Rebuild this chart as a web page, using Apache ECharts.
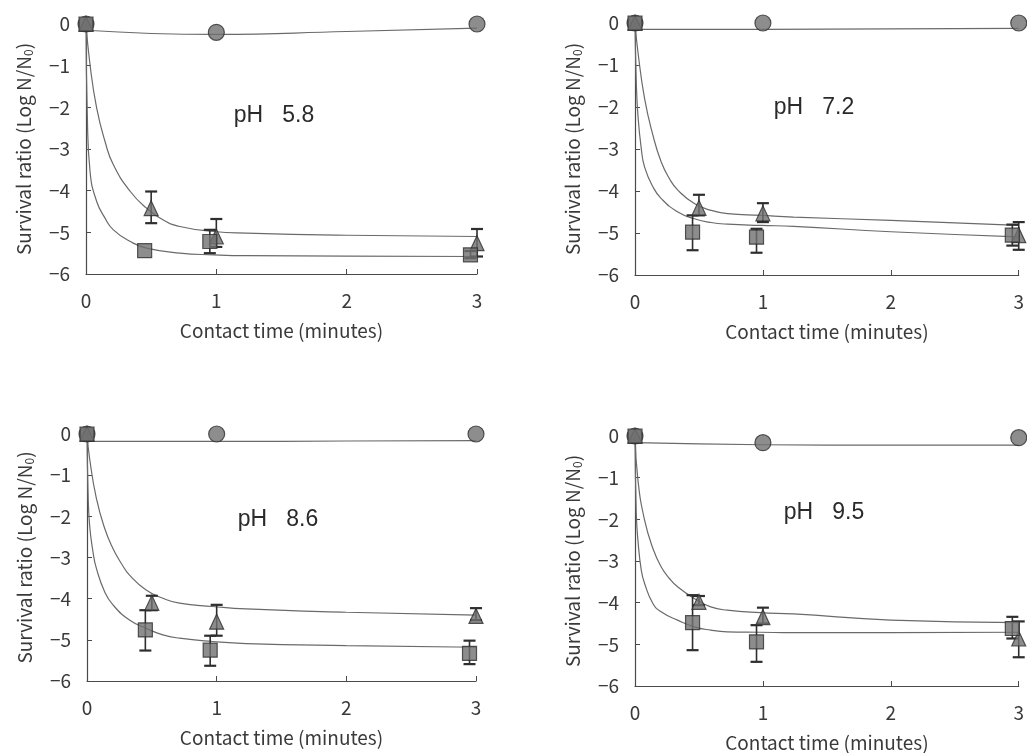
<!DOCTYPE html>
<html><head><meta charset="utf-8">
<script src="https://cdn.jsdelivr.net/npm/echarts@6/dist/echarts.min.js"></script>
<style>html,body{margin:0;padding:0;background:#fff}#c{width:1027px;height:753px}</style>
</head><body><div id="c"></div>
<script>
// ---------- data ----------
const panelLabels = ['pH   5.8', 'pH   7.2', 'pH   8.6', 'pH   9.5'];
const xTitle = 'Contact time (minutes)';
const yTitle = 'Survival ratio (Log N/N{sub|0})';
const xTicks = [0, 1, 2, 3];
const yTicks = [0, -1, -2, -3, -4, -5, -6];

// circles (control)
const circleT = [0, 1, 3];
const circle58 = [0, -0.2, 0];
const circle72 = [0, 0, 0];
const circle86 = [0, 0, 0];
const circle95 = [0, -0.16, -0.04];
const circleFitT = [0, 1, 2, 3];
const circleFit58 = [-0.15, -0.25, -0.18, -0.1];
const circleFit72 = [-0.15, -0.15, -0.14, -0.13];
const circleFit86 = [-0.18, -0.18, -0.17, -0.16];
const circleFit95 = [-0.16, -0.21, -0.22, -0.22];

// triangles
const triT = [0, 0.5, 1, 3];
const tri58 = [0, -4.42, -5.1, -5.26];
const tri72 = [0, -4.4, -4.53, -5.05];
const tri86 = [0, -4.1, -4.56, -4.42];
const tri95 = [0, -3.98, -4.35, -4.86];
const triHi58 = [null, -4.02, -4.68, -4.92];
const triLo58 = [null, -4.78, -5.35, -5.58];
const triHi72 = [null, -4.09, -4.29, -4.74];
const triLo72 = [null, -4.58, -4.74, -5.4];
const triHi86 = [null, -3.93, -4.15, -4.23];
const triLo86 = [null, -4.28, -4.9, -4.52];
const triHi95 = [null, -3.84, -4.12, -4.45];
const triLo95 = [null, -4.06, -4.5, -5.31];

// squares
const sqT = [0, 0.45, 0.95, 2.95];
const sq58 = [0, -5.44, -5.22, -5.54];
const sq72 = [0, -4.98, -5.1, -5.05];
const sq86 = [0, -4.76, -5.25, -5.33];
const sq95 = [0, -4.48, -4.94, -4.62];
const sqHi58 = [null, null, -4.94, -5.45];
const sqLo58 = [null, null, -5.5, -5.62];
const sqHi72 = [null, -4.58, -4.9, -4.8];
const sqLo72 = [null, -5.41, -5.47, -5.3];
const sqHi86 = [null, -4.28, -4.9, -5.02];
const sqLo86 = [null, -5.26, -5.63, -5.59];
const sqHi95 = [null, -3.82, -4.54, -4.34];
const sqLo95 = [null, -5.14, -5.42, -4.86];

// fitted curves (traced)
const topT58 = [0, 0.031, 0.082, 0.146, 0.21, 0.34, 0.465, 0.59, 0.72, 0.98, 1.23, 2, 3];
const topY58 = [0, -0.98, -2.02, -2.82, -3.38, -4.02, -4.42, -4.70, -4.86, -4.98, -5.02, -5.07, -5.1];
const botT58 = [0, 0.01, 0.031, 0.082, 0.146, 0.21, 0.34, 0.465, 0.72, 0.98, 1.23, 2, 3];
const botY58 = [0, -2.18, -3.54, -4.26, -4.66, -4.94, -5.22, -5.38, -5.5, -5.54, -5.56, -5.57, -5.58];
const topT72 = [0, 0.023, 0.075, 0.14, 0.205, 0.27, 0.335, 0.464, 0.594, 0.724, 0.983, 1.24, 2, 3];
const topY72 = [0, -0.69, -1.8, -2.67, -3.31, -3.71, -3.98, -4.3, -4.46, -4.54, -4.58, -4.62, -4.7, -4.82];
const botT72 = [0, 0.01, 0.023, 0.049, 0.075, 0.14, 0.205, 0.335, 0.464, 0.594, 0.724, 0.983, 1.24, 2, 3];
const botY72 = [0, -1.4, -2.2, -2.99, -3.43, -3.9, -4.18, -4.5, -4.66, -4.75, -4.79, -4.82, -4.84, -4.97, -5.09];
const topT86 = [0, 0.02, 0.072, 0.136, 0.2, 0.264, 0.328, 0.456, 0.585, 0.713, 0.969, 1.226, 2, 3];
const topY86 = [0, -0.59, -1.56, -2.29, -2.78, -3.14, -3.43, -3.79, -3.99, -4.11, -4.19, -4.25, -4.33, -4.4];
const botT86 = [0, 0.008, 0.02, 0.046, 0.072, 0.136, 0.2, 0.328, 0.456, 0.585, 0.713, 0.969, 1.226, 2, 3];
const botY86 = [0, -1.4, -2.21, -2.86, -3.26, -3.83, -4.15, -4.52, -4.72, -4.88, -4.96, -5.04, -5.09, -5.14, -5.18];
const topT95 = [0, 0.023, 0.075, 0.14, 0.204, 0.269, 0.333, 0.463, 0.592, 0.721, 0.979, 1.238, 2, 3];
const topY95 = [0, -1.06, -2.02, -2.70, -3.14, -3.42, -3.62, -3.9, -4.1, -4.18, -4.24, -4.27, -4.42, -4.48];
const botT95 = [0, 0.01, 0.023, 0.049, 0.075, 0.14, 0.204, 0.333, 0.463, 0.592, 0.721, 0.979, 1.238, 2, 3];
const botY95 = [0, -1.86, -2.5, -3.22, -3.54, -4.02, -4.22, -4.42, -4.58, -4.66, -4.7, -4.71, -4.72, -4.72, -4.71];

// ---------- build ----------
const P = [
  {c: circle58, cf: circleFit58, t: tri58, tH: triHi58, tL: triLo58, s: sq58, sH: sqHi58, sL: sqLo58, tT: topT58, tY: topY58, bT: botT58, bY: botY58},
  {c: circle72, cf: circleFit72, t: tri72, tH: triHi72, tL: triLo72, s: sq72, sH: sqHi72, sL: sqLo72, tT: topT72, tY: topY72, bT: botT72, bY: botY72},
  {c: circle86, cf: circleFit86, t: tri86, tH: triHi86, tL: triLo86, s: sq86, sH: sqHi86, sL: sqLo86, tT: topT86, tY: topY86, bT: botT86, bY: botY86},
  {c: circle95, cf: circleFit95, t: tri95, tH: triHi95, tL: triLo95, s: sq95, sH: sqHi95, sL: sqLo95, tT: topT95, tY: topY95, bT: botT95, bY: botY95}
];
const grids = [
  {left: 86, top: 24, width: 391, height: 250},
  {left: 635, top: 23, width: 385, height: 252},
  {left: 87, top: 434, width: 389, height: 247},
  {left: 635, top: 436, width: 387, height: 250}
];
const labelPos = [[274, 116], [814, 108], [278, 520], [824, 513]];
const FONT = '"Noto Sans CJK JP", "Noto Sans", sans-serif';
const TXT = '#3a3a3a';
const AX = '#4a4a4a';
const LINE = '#6a6a6a';
const FILL = '#707070';
const EDGE = '#2e2e2e';

const zip = (a, b) => a.map((v, i) => [v, b[i]]);
const errData = (ts, hi, lo) => ts.map((v, i) => hi[i] == null ? null : [v, hi[i], lo[i]]).filter(Boolean);

const xAxis = [], yAxis = [], series = [];
grids.forEach((g, i) => {
  xAxis.push({
    gridIndex: i, type: 'value', min: xTicks[0], max: xTicks[xTicks.length - 1], interval: 1,
    name: xTitle, nameLocation: 'middle', nameGap: 47,
    nameTextStyle: {fontFamily: FONT, fontSize: 19, color: TXT},
    axisLine: {show: true, onZero: false, lineStyle: {color: AX, width: 1.2}},
    axisTick: {show: true, inside: true, length: 5, lineStyle: {color: AX}},
    axisLabel: {margin: 17, fontFamily: FONT, fontSize: 19, color: TXT},
    splitLine: {show: false}
  });
  yAxis.push({
    gridIndex: i, type: 'value', min: yTicks[yTicks.length - 1], max: yTicks[0], interval: 1,
    name: yTitle, nameLocation: 'middle', nameGap: 52, nameRotate: 90,
    nameTextStyle: {fontFamily: FONT, fontSize: 19, color: TXT,
      rich: {sub: {fontFamily: FONT, fontSize: 12, color: TXT, padding: [8, 0, 0, 0]}}},
    axisLine: {show: true, onZero: false, lineStyle: {color: AX, width: 1.2}},
    axisTick: {show: true, inside: true, length: 5, lineStyle: {color: AX}},
    axisLabel: {margin: 16, fontFamily: FONT, fontSize: 19, color: TXT,
      formatter: v => String(v).replace('-', '\u2212')},
    splitLine: {show: false}
  });
  const p = P[i];
  const lineBase = {type: 'line', xAxisIndex: i, yAxisIndex: i, showSymbol: false, symbol: 'none',
    smooth: 0.5, lineStyle: {color: LINE, width: 1.2}, z: 2, silent: true};
  series.push(Object.assign({}, lineBase, {data: zip(circleFitT, p.cf)}));
  series.push(Object.assign({}, lineBase, {data: zip(p.tT, p.tY)}));
  series.push(Object.assign({}, lineBase, {data: zip(p.bT, p.bY)}));
  const errSeries = data => ({
    type: 'custom', xAxisIndex: i, yAxisIndex: i, z: 3, silent: true, data: data,
    renderItem: (params, api) => {
      const x = api.value(0);
      const a = api.coord([x, api.value(1)]);
      const b = api.coord([x, api.value(2)]);
      const w = 6;
      const st = {stroke: '#2e2e2e', lineWidth: 1.6};
      return {type: 'group', children: [
        {type: 'line', shape: {x1: a[0], y1: a[1], x2: b[0], y2: b[1]}, style: st},
        {type: 'line', shape: {x1: a[0] - w, y1: a[1], x2: a[0] + w, y2: a[1]}, style: {stroke: '#2e2e2e', lineWidth: 2.2}},
        {type: 'line', shape: {x1: b[0] - w, y1: b[1], x2: b[0] + w, y2: b[1]}, style: {stroke: '#2e2e2e', lineWidth: 2.2}}
      ]};
    }
  });
  series.push(errSeries(errData(triT, p.tH, p.tL)));
  series.push(errSeries(errData(sqT, p.sH, p.sL)));
  const mk = {itemStyle: {color: FILL, borderColor: EDGE, borderWidth: 1.2}, silent: true};
  series.push(Object.assign({type: 'scatter', xAxisIndex: i, yAxisIndex: i, symbol: 'circle', symbolSize: 16, z: 4, data: zip(circleT, p.c)}, mk));
  series.push(Object.assign({type: 'scatter', xAxisIndex: i, yAxisIndex: i, symbol: 'triangle', symbolSize: [14, 15], z: 5, data: zip(triT, p.t)}, mk));
  series.push(Object.assign({type: 'scatter', xAxisIndex: i, yAxisIndex: i, symbol: 'rect', symbolSize: 14, z: 6, data: zip(sqT, p.s)}, mk));
});

const graphic = labelPos.map((pos, i) => ({
  type: 'text', x: pos[0], y: pos[1], z: 10,
  style: {text: panelLabels[i], font: '23px "Liberation Sans", Arial, sans-serif', fill: '#2a2a2a',
    align: 'center', verticalAlign: 'middle', textAlign: 'center', textVerticalAlign: 'middle'}
}));

const chart = echarts.init(document.getElementById('c'), null, {renderer: 'canvas'});
chart.setOption({
  animation: false,
  backgroundColor: '#ffffff',
  grid: grids.map(g => Object.assign({containLabel: false}, g)),
  xAxis, yAxis, series, graphic
});
</script></body></html>
